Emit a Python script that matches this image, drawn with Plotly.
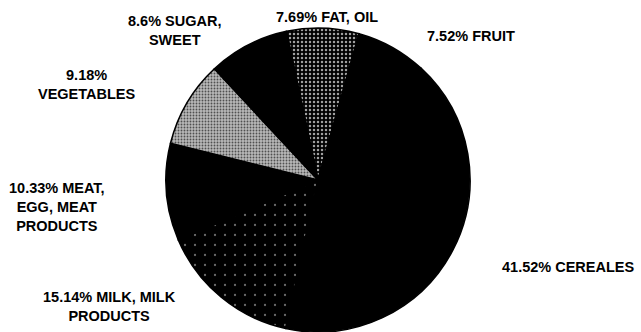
import plotly.graph_objects as go

# Data (clockwise from the top, starting with FAT, OIL)
categories = ["FAT, OIL", "FRUIT", "CEREALES", "MILK, MILK<br>PRODUCTS",
              "MEAT, EGG, MEAT PRODUCTS", "VEGETABLES", "SUGAR, SWEET"]
values = [7.69, 7.52, 41.52, 15.14, 10.33, 9.18, 8.6]
label_texts = ["7.69% FAT, OIL", "7.52% FRUIT", "41.52% CEREALES",
               "15.14% MILK, MILK<br>PRODUCTS", "10.33% MEAT,<br>EGG, MEAT<br>PRODUCTS",
               "9.18%<br>VEGETABLES", "8.6% SUGAR,<br>SWEET"]

# styling
slice_colors = ["#000000", "#000000", "#000000", "#000000", "#000000", "#b8b8b8", "#000000"]
pat_shapes = [".", "", "", ".", "", ".", ""]
pat_fg = ["#a0a0a0", "#000000", "#000000", "#6a6a6a", "#000000", "#505050", "#000000"]
pat_bg = ["#000000", "#000000", "#000000", "#000000", "#000000", "#b8b8b8", "#000000"]
pat_size = [4, 6, 6, 10, 6, 3, 6]
pat_solid = [0.3, 0.2, 0.2, 0.04, 0.2, 0.3, 0.2]

# label placement (paper coords)
label_x = [327, 471, 568, 109, 57, 87, 174]
label_y = [17, 36, 267, 306, 207, 84, 30]

W, H = 641, 332

fig = go.Figure(go.Pie(
    labels=categories,
    values=values,
    sort=False,
    direction="clockwise",
    rotation=-12,
    textinfo="none",
    hoverinfo="label+percent",
    marker=dict(
        colors=slice_colors,
        line=dict(color="#000000", width=1.6),
        pattern=dict(shape=pat_shapes, fgcolor=pat_fg, bgcolor=pat_bg,
                     size=pat_size, solidity=pat_solid, fillmode="replace"),
    ),
    domain=dict(x=[165 / W, 471 / W], y=[0 / H, 304 / H]),
    showlegend=False,
))

for t, x, y in zip(label_texts, label_x, label_y):
    fig.add_annotation(
        text="<b>" + t + "</b>", x=x / W, y=1 - y / H, xref="paper", yref="paper",
        showarrow=False, xanchor="center", yanchor="middle", align="center",
        font=dict(family="Liberation Sans, Arial, sans-serif", size=14.5, color="#000000"),
    )

fig.update_layout(
    width=W, height=H,
    margin=dict(l=0, r=0, t=0, b=0),
    paper_bgcolor="#ffffff",
    plot_bgcolor="#ffffff",
)

fig.write_html("out.html")
